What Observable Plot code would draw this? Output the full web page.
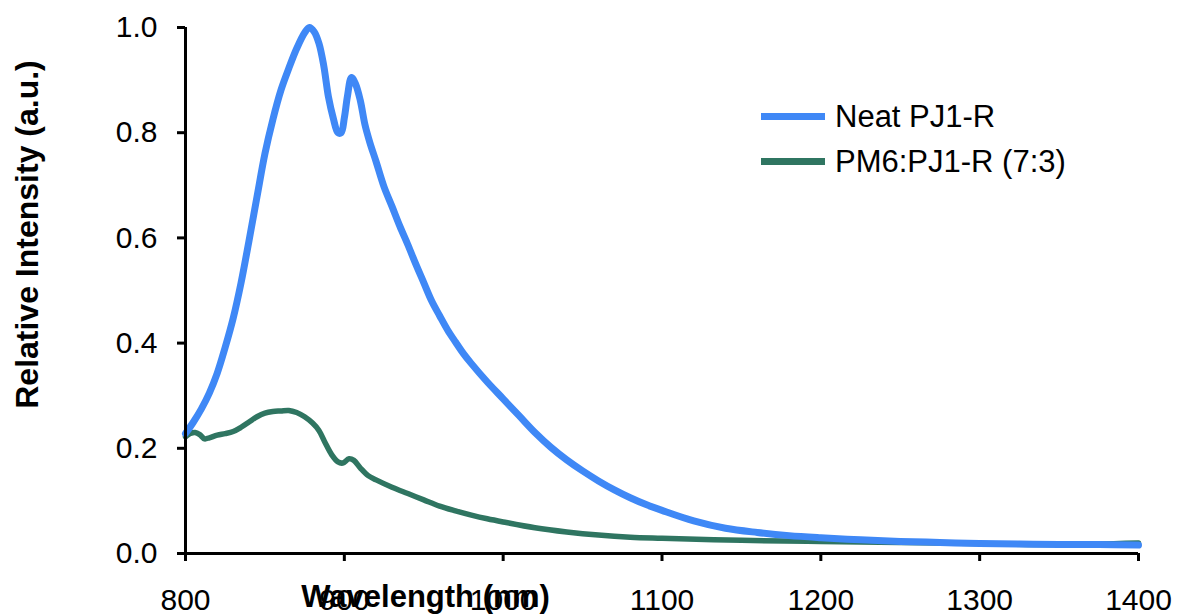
<!DOCTYPE html>
<html>
<head>
<meta charset="utf-8">
<script src="https://cdn.jsdelivr.net/npm/d3@7"></script>
<script src="https://cdn.jsdelivr.net/npm/@observablehq/plot@0.6"></script>
<style>
  html, body { margin: 0; padding: 0; background: #fff; }
  #wrap { position: relative; width: 1179px; height: 615px; font-family: "Liberation Sans", Arial, sans-serif; }
  #legend { position: absolute; left: 761px; top: 94px; font-size: 31px; color: #000; }
  .item { display: flex; align-items: center; height: 45px; }
  .sw { width: 64px; height: 7px; margin-right: 10px; }
</style>
</head>
<body>
<div id="wrap"></div>
<script>
// Series names and colours
const seriesNames = ["Neat PJ1-R", "PM6:PJ1-R (7:3)"];
const seriesColors = ["#3f88f6", "#2f7561"];

// Neat PJ1-R: wavelength (nm) and relative intensity
const neatWavelength = [800, 805, 810, 815, 820, 825, 830, 835, 840, 845, 850, 855, 860, 865, 870, 875, 878, 881, 884, 887, 890, 893, 896, 898, 900, 902, 904.5, 907, 910, 913, 916, 920, 925, 930, 935, 940, 945, 950, 955, 960, 965, 970, 975, 980, 990, 1000, 1010, 1020, 1030, 1040, 1050, 1060, 1070, 1080, 1090, 1100, 1120, 1140, 1160, 1180, 1200, 1225, 1250, 1275, 1300, 1325, 1350, 1375, 1400];
const neatIntensity = [0.228, 0.250, 0.275, 0.305, 0.343, 0.392, 0.447, 0.515, 0.595, 0.678, 0.760, 0.825, 0.880, 0.922, 0.960, 0.990, 1.000, 0.992, 0.970, 0.928, 0.868, 0.828, 0.800, 0.800, 0.828, 0.870, 0.905, 0.893, 0.862, 0.815, 0.782, 0.745, 0.697, 0.660, 0.622, 0.587, 0.550, 0.515, 0.480, 0.452, 0.425, 0.402, 0.380, 0.361, 0.326, 0.294, 0.262, 0.230, 0.202, 0.178, 0.157, 0.138, 0.121, 0.106, 0.093, 0.082, 0.062, 0.048, 0.040, 0.034, 0.030, 0.026, 0.023, 0.021, 0.019, 0.018, 0.017, 0.017, 0.016];

// PM6:PJ1-R (7:3): wavelength (nm) and relative intensity
const blendWavelength = [800, 803, 806, 809, 812, 815, 820, 825, 830, 835, 840, 845, 850, 855, 860, 865, 870, 875, 880, 884, 888, 892, 896, 899, 903, 906, 910, 915, 920, 930, 940, 950, 960, 970, 980, 990, 1000, 1020, 1040, 1060, 1080, 1100, 1150, 1200, 1250, 1300, 1350, 1400];
const blendIntensity = [0.222, 0.228, 0.230, 0.226, 0.218, 0.220, 0.225, 0.228, 0.232, 0.240, 0.250, 0.260, 0.267, 0.270, 0.271, 0.272, 0.268, 0.260, 0.248, 0.234, 0.210, 0.188, 0.174, 0.172, 0.180, 0.177, 0.163, 0.148, 0.140, 0.126, 0.114, 0.102, 0.090, 0.081, 0.073, 0.066, 0.060, 0.049, 0.041, 0.035, 0.031, 0.029, 0.025, 0.023, 0.021, 0.019, 0.017, 0.020];

// Axis ticks and titles
const xTicks = [800, 900, 1000, 1100, 1200, 1300, 1400];
const yTicks = [0, 0.2, 0.4, 0.6, 0.8, 1.0];
const xTitle = "Wavelength (nm)";
const yTitle = "Relative Intensity (a.u.)";

const neat = neatWavelength.map((w, i) => ({w, v: neatIntensity[i]}));
const blend = blendWavelength.map((w, i) => ({w, v: blendIntensity[i]}));

const font = "Liberation Sans, Arial, sans-serif";

const chart = Plot.plot({
  width: 1179,
  height: 615,
  marginLeft: 185,
  marginRight: 41,
  marginTop: 27,
  marginBottom: 62,
  style: {fontFamily: font, background: "#fff", color: "#000", overflow: "visible"},
  x: {domain: [800, 1400]},
  y: {domain: [0, 1]},
  marks: [
    Plot.axisX({ticks: xTicks, tickSize: 8, tickPadding: 27, strokeWidth: 3, fontSize: 30, label: null, tickFormat: d3.format("d")}),
    Plot.axisY({ticks: yTicks, tickSize: 8, tickPadding: 20, strokeWidth: 3, fontSize: 30, label: null, tickFormat: d3.format(".1f")}),
    Plot.lineY(blend, {x: "w", y: "v", stroke: seriesColors[1], strokeWidth: 5.5, curve: "catmull-rom"}),
    Plot.lineY(neat, {x: "w", y: "v", stroke: seriesColors[0], strokeWidth: 7, curve: "catmull-rom"}),
    Plot.ruleY([0], {stroke: "#000", strokeWidth: 3}),
    Plot.ruleX([800], {stroke: "#000", strokeWidth: 3}),
    Plot.text([xTitle], {frameAnchor: "bottom-left", textAnchor: "middle", lineAnchor: "bottom", dx: 240, dy: 53, fontSize: 31, fontWeight: "bold", fill: "#000"}),
    Plot.text([yTitle], {frameAnchor: "left", textAnchor: "middle", lineAnchor: "bottom", rotate: -90, dx: -148, dy: -56, fontSize: 32, fontWeight: "bold", fill: "#000"})
  ]
});

const wrap = document.getElementById("wrap");
wrap.appendChild(chart);

const legend = document.createElement("div");
legend.id = "legend";
seriesNames.forEach((name, i) => {
  const item = document.createElement("div");
  item.className = "item";
  const sw = document.createElement("div");
  sw.className = "sw";
  sw.style.background = seriesColors[i];
  const label = document.createElement("span");
  label.textContent = name;
  item.appendChild(sw);
  item.appendChild(label);
  legend.appendChild(item);
});
wrap.appendChild(legend);
</script>
</body>
</html>
